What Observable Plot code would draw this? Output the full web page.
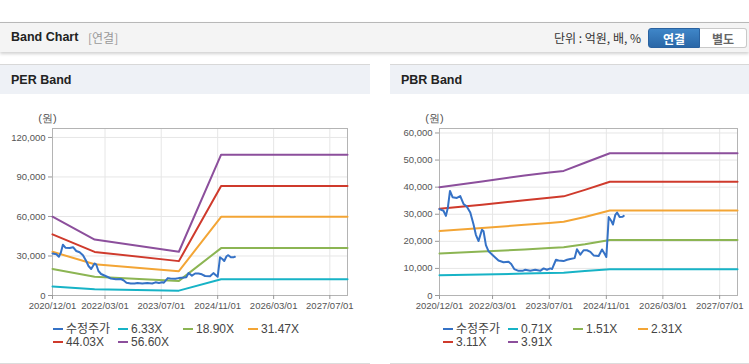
<!DOCTYPE html>
<html><head><meta charset="utf-8">
<script src="https://cdn.jsdelivr.net/npm/d3@7"></script>
<script src="https://cdn.jsdelivr.net/npm/@observablehq/plot@0.6"></script>
<style>
body{margin:0;width:749px;height:364px;overflow:hidden;background:#fff;position:relative;font-family:"Liberation Sans","Noto Sans CJK KR",Arial,sans-serif;}
#topbar{position:absolute;left:0;top:22px;width:749px;height:29px;background:#f4f4f4;border-top:1px solid #b8b8b8;box-shadow:0 2px 3px rgba(0,0,0,0.18);}
#topbar .title{position:absolute;left:11px;top:7px;font-weight:bold;font-size:12.5px;color:#222;}
#topbar .sub{position:absolute;left:88px;top:8px;font-size:12px;color:#999;font-family:"Noto Sans CJK KR",sans-serif;line-height:14px}
#topbar .unit{position:absolute;right:108px;top:7px;font-size:12px;color:#333;font-family:"Noto Sans CJK KR",sans-serif;line-height:16px}
.btn{position:absolute;top:5px;height:20px;line-height:20px;text-align:center;font-size:12px;font-weight:bold;font-family:"Noto Sans CJK KR",sans-serif;box-sizing:border-box}
#b1{left:648px;width:52px;background:linear-gradient(#3f86c8,#2a67a7);color:#fff;border-radius:3px 0 0 3px;border:1px solid #2a62a0}
#b2{left:700px;width:47px;background:#fff;color:#666;border:1px solid #c9c9c9;border-left:none;border-radius:0 3px 3px 0}
.panel{position:absolute;top:64px;height:299px;border-bottom:1px solid #dcdcdc;background:#fff}
.phead{position:absolute;left:0;top:0;right:0;height:29px;background:#eef1f6;border-top:1px solid #d8d8d8;}
.phead span{position:absolute;left:11px;top:8px;font-weight:bold;font-size:12.5px;color:#222}
.chart{position:absolute;left:0;top:32px}
.legend{position:absolute;left:53px;top:259px;width:300px;font-size:12px;color:#444;line-height:13px}
.legend .it{display:inline-block;width:65px;white-space:nowrap;height:13px;vertical-align:top}
.legend .dash{display:inline-block;width:10px;height:2.5px;vertical-align:middle;margin-right:3px;position:relative;top:-1px}
</style></head><body>
<div id="topbar"><span class="title">Band Chart</span><span class="sub">[연결]</span><span class="unit">단위 : 억원, 배, %</span><div class="btn" id="b1">연결</div><div class="btn" id="b2">별도</div></div>
<div class="panel" style="left:0;width:370px"><div class="phead"><span>PER Band</span></div><div class="chart" id="perChart"></div><div class="legend" id="perLegend"></div></div>
<div class="panel" style="left:390px;width:359px"><div class="phead"><span>PBR Band</span></div><div class="chart" id="pbrChart"></div><div class="legend" id="pbrLegend"></div></div>
<script>
// ---- data ----
const xTickDates = ["2020-12-01","2022-03-01","2023-07-01","2024-11-01","2026-03-01","2027-07-01"];
const xDomain = ["2020-12-01","2027-12-01"];
const yUnitLabel = "(원)";

const priceName = "수정주가";
const priceDates = ["2020-12-01","2021-01-04","2021-01-25","2021-02-11","2021-03-01","2021-03-23","2021-04-29","2021-05-28","2021-06-25","2021-07-24","2021-08-22","2021-09-19","2021-10-09","2021-11-01","2021-11-30","2021-12-14","2022-01-03","2022-01-26","2022-03-10","2022-04-21","2022-06-03","2022-07-16","2022-08-08","2022-09-03","2022-10-10","2022-11-13","2022-12-07","2023-01-18","2023-03-02","2023-04-14","2023-05-13","2023-06-11","2023-07-09","2023-07-24","2023-08-27","2023-09-18","2023-10-31","2023-11-30","2023-12-28","2024-02-03","2024-02-23","2024-03-23","2024-04-20","2024-05-19","2024-06-17","2024-07-15","2024-08-27","2024-09-25","2024-10-17","2024-11-01","2024-11-16","2024-11-21","2024-12-14","2024-12-28","2025-01-17","2025-02-01","2025-02-23","2025-03-21","2025-03-30"];
const priceValues = [31900,31300,29400,32500,38600,36300,36000,36700,33800,32800,30600,26200,22400,20100,24300,23700,18600,16300,14600,12900,12300,12500,11600,9750,9100,9100,9500,9100,9500,9100,10000,9500,10000,9750,13200,12900,12700,13200,13500,13800,17100,15100,16700,16700,16100,14800,14600,17000,15400,14200,24900,29000,27500,26200,29800,30600,29000,29100,29400];

// PER band
const perBandDates = ["2020-12-01","2021-12-01","2023-12-01","2024-12-01","2027-12-01"];
const perNames = ["6.33X","18.90X","31.47X","44.03X","56.60X"];
const per633  = [6800, 4750, 3700, 12300, 12300];
const per1890 = [20200, 14300, 11100, 36000, 36000];
const per3147 = [33200, 23700, 18500, 59700, 59700];
const per4403 = [46400, 33100, 26100, 83100, 83100];
const per5660 = [59800, 42500, 33200, 106900, 106900];
const perYTicks = [0, 30000, 60000, 90000, 120000];
const perYMax = 126800;

// PBR band
const pbrBandDates = ["2020-12-01","2021-12-01","2022-12-01","2023-07-01","2023-11-01","2024-05-01","2024-12-01","2027-12-01"];
const pbrNames = ["0.71X","1.51X","2.31X","3.11X","3.91X"];
const pbr071 = [7450, 7750, 8100, 8300, 8400, 9000, 9700, 9700];
const pbr151 = [15500, 16200, 17000, 17500, 17800, 18900, 20500, 20500];
const pbr231 = [23800, 24900, 26100, 26800, 27200, 29000, 31400, 31400];
const pbr311 = [32000, 33500, 35200, 36100, 36600, 39000, 42000, 42000];
const pbr391 = [40000, 42100, 44300, 45400, 46000, 49000, 52500, 52500];
const pbrYTicks = [0, 10000, 20000, 30000, 40000, 50000, 60000];
const pbrYMax = 61650;

const priceColor = "#3572c6";
const bandColors = ["#17b3c6","#8cb553","#f3a535","#cf3a2c","#8c4f9c"];

// ---- drawing ----
const P = s => d3.utcParse("%Y-%m-%d")(s);
function chart({width, marginLeft, marginRight, yMax, yTicks, bandDates, bands}) {
  const bd = bandDates.map(P), pd = priceDates.map(P);
  const marks = [
    Plot.gridX(xTickDates.map(P), {stroke:"#e6e6e6", strokeOpacity:1}),
    Plot.gridY(yTicks, {stroke:"#e6e6e6", strokeOpacity:1}),
    Plot.frame({stroke:"#b4b4b4"}),
    Plot.axisX(xTickDates.map(P), {tickFormat: d3.utcFormat("%Y/%m/%d"), tickSize:4, tickPadding:3, stroke:"#999", fill:"#555", label:null}),
    Plot.axisY(yTicks, {tickFormat: d3.format(","), tickSize:4, tickPadding:3, stroke:"#999", fill:"#555", label:null}),
    Plot.text([yUnitLabel], {frameAnchor:"top-left", textAnchor:"middle", lineAnchor:"middle", dx:-5, dy:-10, fill:"#555", fontSize:11})
  ];
  bands.forEach((vals, k) => {
    marks.push(Plot.line(vals, {x:(d,i)=>bd[i], y:d=>d, stroke:bandColors[k], strokeWidth:2}));
  });
  marks.push(Plot.line(priceValues, {x:(d,i)=>pd[i], y:d=>d, stroke:priceColor, strokeWidth:2}));
  return Plot.plot({
    width, height:225, marginLeft, marginRight, marginTop:32, marginBottom:26,
    x:{type:"utc", domain:xDomain.map(P)},
    y:{domain:[0,yMax]},
    style:{fontFamily:"'Liberation Sans',Arial,sans-serif", fontSize:"9.5px", background:"transparent", overflow:"visible"},
    marks
  });
}
document.getElementById("perChart").append(chart({width:370, marginLeft:52, marginRight:23, yMax:perYMax, yTicks:perYTicks, bandDates:perBandDates, bands:[per633,per1890,per3147,per4403,per5660]}));
document.getElementById("pbrChart").append(chart({width:359, marginLeft:49, marginRight:12, yMax:pbrYMax, yTicks:pbrYTicks, bandDates:pbrBandDates, bands:[pbr071,pbr151,pbr231,pbr311,pbr391]}));

function legend(id, names) {
  const el = document.getElementById(id);
  const items = [[priceName, priceColor], ...names.map((n,k)=>[n, bandColors[k]])];
  items.forEach(([n,c]) => {
    const s = document.createElement("span"); s.className = "it";
    s.innerHTML = `<span class="dash" style="background:${c}"></span>${n}`;
    el.append(s);
  });
}
legend("perLegend", perNames);
legend("pbrLegend", pbrNames);
</script>
</body></html>
